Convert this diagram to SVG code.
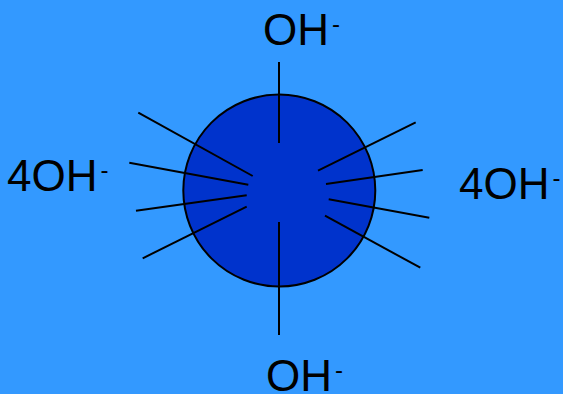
<svg xmlns="http://www.w3.org/2000/svg" width="563" height="394" viewBox="0 0 563 394">
<style>
.lbl{font-family:"Liberation Sans",Arial,sans-serif;font-size:44px;fill:#000}
.sup{font-size:24px}
.ln{stroke:#000;stroke-width:2;fill:none}
</style>
<rect width="563" height="394" fill="#3399FF"/>
<g id="sphere"><circle cx="279.3" cy="190.5" r="96" fill="#0033CC" stroke="#000" stroke-width="2"/></g>
<g id="connectors">
<line class="ln" x1="279" y1="62" x2="279" y2="143"/>
<line class="ln" x1="279" y1="222" x2="279" y2="335"/>
<line class="ln" x1="138.3" y1="112.7" x2="252.7" y2="176"/>
<line class="ln" x1="129.3" y1="162.7" x2="248.3" y2="184.7"/>
<line class="ln" x1="136" y1="210.7" x2="246.7" y2="195.3"/>
<line class="ln" x1="142.7" y1="258.3" x2="246.7" y2="206.7"/>
<line class="ln" x1="415.7" y1="122.3" x2="318" y2="170.7"/>
<line class="ln" x1="422.7" y1="170" x2="326" y2="184"/>
<line class="ln" x1="328.7" y1="199.3" x2="429.3" y2="217.7"/>
<line class="ln" x1="325" y1="215.7" x2="420.3" y2="267.7"/>
</g>
<g id="label-top"><text class="lbl" x="263" y="45">OH<tspan class="sup" dx="3" dy="-13">-</tspan></text></g>
<g id="label-left"><text class="lbl" x="7" y="191">4OH<tspan class="sup" dx="3" dy="-13">-</tspan></text></g>
<g id="label-right"><text class="lbl" x="459" y="199">4OH<tspan class="sup" dx="3" dy="-13">-</tspan></text></g>
<g id="label-bottom"><text class="lbl" x="266" y="391">OH<tspan class="sup" dx="3" dy="-13">-</tspan></text></g>
</svg>
